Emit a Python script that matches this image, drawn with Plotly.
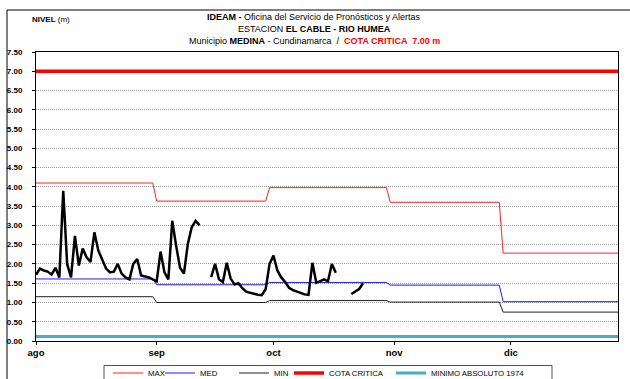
import pandas as pd
import plotly.graph_objects as go

# ---- data -------------------------------------------------------------
START = "2023-08-01"
END = "2023-12-28 12:00"

# observed daily level (m), from Aug 1; None = no reading
nivel = [
    1.72, 1.88, 1.83, 1.80, 1.72, 1.90, 1.65, 3.90, 2.00, 1.65,
    2.73, 1.96, 2.40, 2.17, 2.05, 2.82, 2.35, 2.10, 1.88, 1.78,
    1.80, 2.00, 1.75, 1.65, 1.60, 2.00, 2.13, 1.70, 1.68, 1.65,
    1.60, 1.55, 2.32, 1.78, 1.60, 3.12, 2.47, 1.90, 1.75, 2.52,
    2.95, 3.12, 3.00, None, None, 1.66, 2.00, 1.60, 1.53, 2.03,
    1.62, 1.47, 1.50, 1.37, 1.28, 1.25, 1.22, 1.20, 1.19, 1.35,
    2.00, 2.22, 1.83, 1.65, 1.53, 1.38, 1.32, 1.28, 1.25, 1.21,
    1.20, 2.03, 1.51, 1.55, 1.60, 1.55, 2.00, 1.77, None, None,
    None, 1.22, 1.28, 1.35, 1.50,
]
nivel_dates = pd.date_range(START, periods=len(nivel), freq="D")

# monthly reference levels (MAX / MED / MIN) with their change dates
band_dates = [
    "2023-08-01", "2023-08-31", "2023-09-01", "2023-09-29", "2023-09-30",
    "2023-10-30", "2023-10-31", "2023-11-28", "2023-11-29", END,
]
max_level = [4.10, 4.10, 3.63, 3.63, 3.98, 3.98, 3.60, 3.60, 2.28, 2.28]
med_level = [1.61, 1.61, 1.46, 1.46, 1.52, 1.52, 1.45, 1.45, 1.02, 1.02]
min_level = [1.15, 1.15, 1.00, 1.00, 1.05, 1.05, 1.01, 1.01, 0.75, 0.75]

cota_critica = 7.00
minimo_absoluto = 0.12

month_ticks = ["2023-08-01", "2023-09-01", "2023-10-01", "2023-11-01", "2023-12-01"]
month_labels = ["ago", "sep", "oct", "nov", "dic"]
y_ticks = [i * 0.5 for i in range(16)]

# ---- figure -----------------------------------------------------------
W, H = 630, 379
ML, MR, MT, MB = 36, 12, 52, 38
PW, PH = W - ML - MR, H - MT - MB

fig = go.Figure()
fig.add_trace(go.Scatter(x=band_dates, y=max_level, mode="lines", name="MAX",
                         line=dict(color="#ff2020", width=1), legendwidth=7))
fig.add_trace(go.Scatter(x=band_dates, y=med_level, mode="lines", name="MED",
                         line=dict(color="#1a1aff", width=1), legendwidth=29))
fig.add_trace(go.Scatter(x=band_dates, y=min_level, mode="lines", name="MIN",
                         line=dict(color="#202020", width=1), legendwidth=10))
fig.add_trace(go.Scatter(x=[START, END], y=[cota_critica] * 2, mode="lines",
                         name="COTA CRITICA",
                         line=dict(color="#ff0000", width=3.5), legendwidth=57))
fig.add_trace(go.Scatter(x=[START, END], y=[minimo_absoluto] * 2, mode="lines",
                         name="MINIMO ABSOLUTO 1974",
                         line=dict(color="#4bacc6", width=3), legendwidth=100))
fig.add_trace(go.Scatter(x=nivel_dates, y=nivel, mode="lines", name="NIVEL",
                         line=dict(color="#000000", width=2.5),
                         connectgaps=False, showlegend=False))


def px_x(x):
    return (x - ML) / PW


def px_y(y):
    return (H - MB - y) / PH


title_font = dict(family="Liberation Sans, Arial", size=9, color="#000000")
title_lines = [
    ("<b>IDEAM - </b>Oficina del Servicio de Pronósticos y Alertas", 17),
    ("ESTACION <b>EL CABLE - RIO HUMEA</b>", 29),
    ("Municipio <b>MEDINA</b> - Cundinamarca  /  "
     "<span style='color:#ff0000'><b>COTA CRITICA  7.00 m</b></span>", 41),
]
annotations = [
    dict(text=t, x=px_x(314), y=px_y(yy), xref="paper", yref="paper",
         xanchor="center", yanchor="middle", showarrow=False, font=title_font)
    for t, yy in title_lines
]
annotations.append(dict(
    text="<b>NIVEL</b> (m)", x=px_x(30), y=px_y(19), xref="paper", yref="paper",
    xanchor="left", yanchor="middle", showarrow=False,
    font=dict(family="Liberation Sans, Arial", size=8, color="#000000"),
))

shapes = [
    # outer chart frame
    dict(type="rect", xref="paper", yref="paper",
         x0=px_x(7), x1=px_x(640), y0=px_y(400), y1=px_y(10),
         line=dict(color="#000000", width=1), layer="below"),
    # legend frame
    dict(type="rect", xref="paper", yref="paper",
         x0=px_x(104), x1=px_x(552), y0=px_y(395), y1=px_y(365.5),
         line=dict(color="#505050", width=1), layer="below"),
]

fig.update_layout(
    width=W, height=H,
    margin=dict(l=ML, r=MR, t=MT, b=MB, autoexpand=False),
    paper_bgcolor="#ffffff", plot_bgcolor="#ffffff",
    font=dict(family="Liberation Sans, Arial", color="#000000"),
    annotations=annotations,
    shapes=shapes,
    legend=dict(orientation="h", x=px_x(108), y=px_y(358.5), xanchor="left",
                yanchor="top", borderwidth=0,
                bgcolor="rgba(0,0,0,0)", font=dict(size=7.8, color="#000000"),
                itemwidth=30, traceorder="normal"),
    showlegend=True,
)

fig.update_xaxes(
    type="date", range=[START, END],
    tickvals=month_ticks, ticktext=month_labels,
    ticks="outside", ticklen=3, tickcolor="#000000",
    tickfont=dict(size=9.5, weight="bold"),
    showgrid=False, zeroline=False,
    showline=True, linecolor="#000000", linewidth=1, mirror=True,
)
fig.update_yaxes(
    range=[0, 7.5], tickvals=y_ticks, tickformat=".2f",
    ticks="outside", ticklen=3, tickcolor="#000000",
    tickfont=dict(size=8, weight="bold"), ticklabelstandoff=8,
    showgrid=True, gridcolor="#9a9a9a", griddash="1px,1px", gridwidth=1,
    zeroline=False,
    showline=True, linecolor="#000000", linewidth=1, mirror=True,
)

fig.write_html("out.html")
